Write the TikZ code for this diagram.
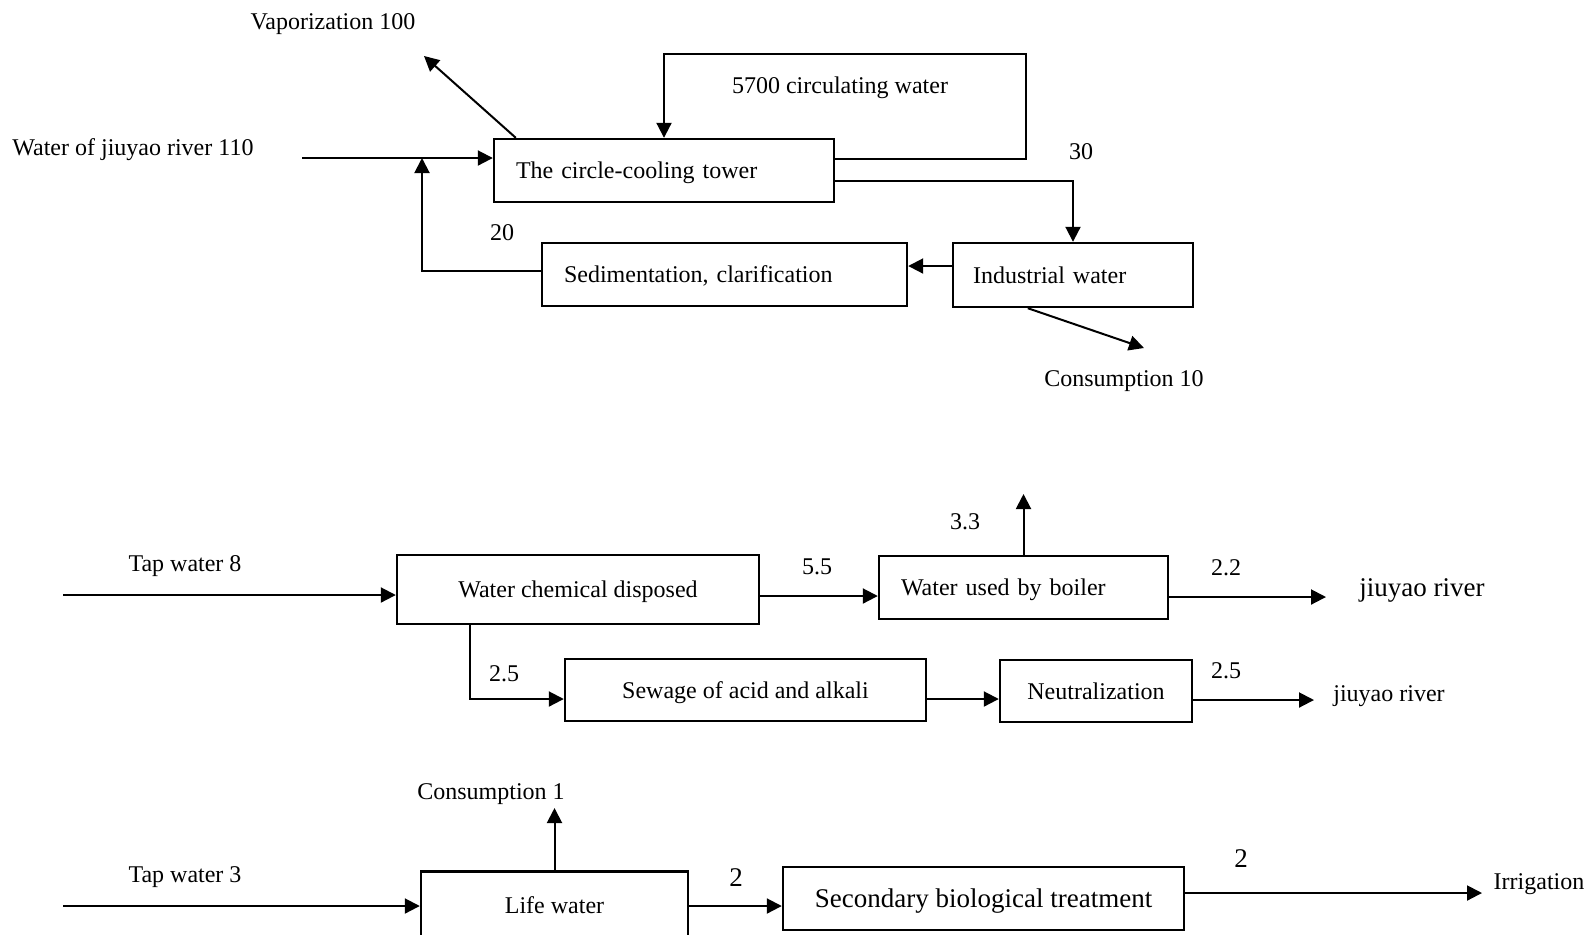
\documentclass[tikz,border=0pt]{standalone}
\usepackage{fontspec}
\setmainfont{Liberation Serif}
\usetikzlibrary{arrows.meta, positioning, calc}

\tikzset{
  box/.style={draw, line width=1.2pt, inner sep=0pt, align=center, text depth=0pt},
  lbox/.style={box, align=left},
  flow/.style={line width=1pt, -{Triangle[length=7.5pt, width=7.5pt]}},
  txt/.style={inner sep=0pt, yshift=-1pt},
  big/.style={font=\fontsize{13.5}{16}\selectfont}
}

\begin{document}
\begin{tikzpicture}[x=0.5pt, y=-0.5pt, every node/.style={font=\fontsize{12}{14}\selectfont}]
  \useasboundingbox (0,0) rectangle (1590,934);

  % Circulating cooling system
  \node[lbox, minimum width=170pt, minimum height=31.5pt, text width=148pt, inner xsep=11pt] (tower) at (664,170.5) {The circle-cooling tower};
  \node[lbox, minimum width=182.5pt, minimum height=31.5pt, text width=160.5pt, inner xsep=11pt] (sed) at (724.5,274.5) {Sedimentation, clarification};
  \node[lbox, minimum width=120pt, minimum height=32pt, text width=100pt, inner xsep=10pt] (indus) at (1073,275) {Industrial water};

  \node[txt] (vapTxt) at (333,22) {Vaporization 100};
  \node[txt, anchor=west] (riverTxt) at (12,148) {Water of jiuyao river 110};
  \node[txt] (circTxt) at (840,86) {5700 circulating water};
  \node[txt] (n30) at (1081,150) {30};
  \node[txt] (n20) at (502,231) {20};
  \node[txt] (con10Txt) at (1124,379) {Consumption 10};

  \coordinate (riverIn) at (302,158);
  \coordinate (join) at (422,158);
  \coordinate (loopR) at (1026,54);
  \coordinate (vapEnd) at (424,56);
  \coordinate (con10End) at (1144,348);
  \coordinate (r1a) at (0,159);
  \coordinate (r1b) at (0,180.5);
  \coordinate (r1c) at (0,266);
  \coordinate (r1d) at (0,271);

  \draw[flow] (riverIn) -- (riverIn -| tower.west);
  \draw[flow] (tower.east |- r1a) -| (loopR) -| (tower.north);
  \draw[flow] (tower.east |- r1b) -| (indus.north);
  \draw[flow] (indus.west |- r1c) -- (sed.east |- r1c);
  \draw[flow] (sed.west |- r1d) -| (join);
  \draw[flow] ($(tower.north west)+(23,0)$) -- (vapEnd);
  \draw[flow] ($(indus.south west)+(76,0)$) -- (con10End);

  % Boiler water
  \node[box, minimum width=181pt, minimum height=34.5pt] (chem) at (578,589.5) {Water chemical disposed};
  \node[lbox, minimum width=144.5pt, minimum height=31.5pt, text width=122.5pt, inner xsep=11pt] (boiler) at (1023.5,587.5) {Water used by boiler};
  \node[box, minimum width=180.5pt, minimum height=31pt] (sewage) at (745.5,690) {Sewage of acid and alkali};
  \node[box, minimum width=96pt, minimum height=31pt] (neutr) at (1096,691) {Neutralization};

  \node[txt] (tap8Txt) at (185,564) {Tap water 8};
  \node[txt] (n55) at (817,565) {5.5};
  \node[txt] (n33) at (965,520) {3.3};
  \node[txt] (n22) at (1226,566) {2.2};
  \node[txt, big] (riv1Txt) at (1422,588) {jiuyao river};
  \node[txt] (n25a) at (504,672) {2.5};
  \node[txt] (n25b) at (1226,669) {2.5};
  \node[txt] (riv2Txt) at (1389,694) {jiuyao river};

  \coordinate (tap8In) at (63,595);
  \coordinate (r2a) at (0,596);
  \coordinate (steamEnd) at (1023.5,494);
  \coordinate (riv1End) at (1326,597);
  \coordinate (brk) at (469.5,699);
  \coordinate (r2b) at (0,699);
  \coordinate (riv2End) at (1314,700);

  \draw[flow] (tap8In) -- (tap8In -| chem.west);
  \draw[flow] (chem.east |- r2a) -- (boiler.west |- r2a);
  \draw[flow] (boiler.north) -- (steamEnd);
  \draw[flow] (riv1End -| boiler.east) -- (riv1End);
  \draw[flow] (brk |- chem.south) -- (brk) -- (sewage.west |- brk);
  \draw[flow] (sewage.east |- r2b) -- (neutr.west |- r2b);
  \draw[flow] (riv2End -| neutr.east) -- (riv2End);

  % Life water
  \node[box, minimum width=133.5pt, minimum height=34pt] (life) at (554.5,905.5) {Life water};
  \node[box, big, minimum width=200.5pt, minimum height=31.5pt] (bio) at (983.5,898.5) {Secondary biological treatment};

  \node[txt] (con1Txt) at (491,792) {Consumption 1};
  \node[txt] (tap3Txt) at (185,875) {Tap water 3};
  \node[txt, big] (n2a) at (736,876) {2};
  \node[txt, big] (n2b) at (1241,857) {2};
  \node[txt] (irrTxt) at (1539,882) {Irrigation};

  \coordinate (tap3In) at (63,906);
  \coordinate (con1End) at (554.5,808);
  \coordinate (r3) at (0,906);
  \coordinate (irrEnd) at (1482,893);

  \draw[flow] (tap3In) -- (tap3In -| life.west);
  \draw[flow] (life.north) -- (con1End);
  \draw[flow] (life.east |- r3) -- (bio.west |- r3);
  \draw[flow] (irrEnd -| bio.east) -- (irrEnd);
\end{tikzpicture}
\end{document}
